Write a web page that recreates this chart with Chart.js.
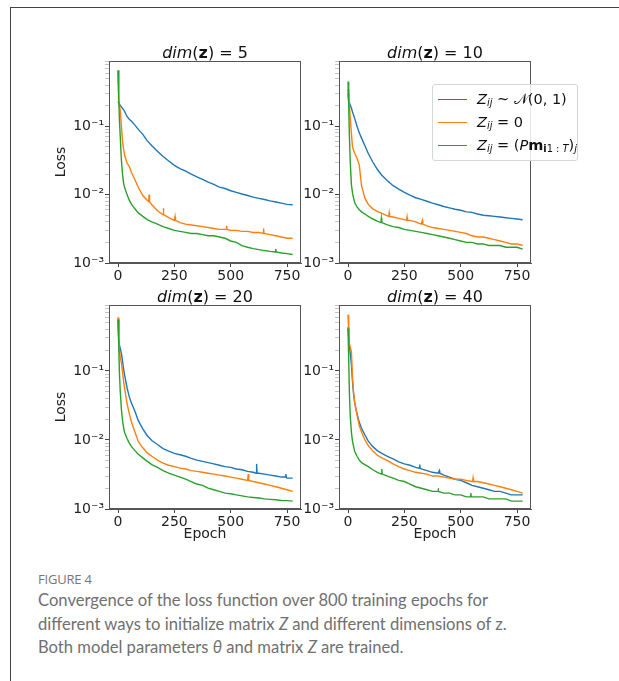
<!DOCTYPE html>
<html>
<head>
<meta charset="utf-8">
<script src="https://cdn.jsdelivr.net/npm/chart.js@4.4.1/dist/chart.umd.min.js"></script>
<style>
  html, body { margin: 0; padding: 0; background: #fff; overflow: hidden; }
  #page { position: relative; width: 619px; height: 681px; font-family: 'DejaVu Sans', sans-serif; }
  #frame { position: absolute; left: 10px; top: 7px; width: 700px; height: 700px; border-top: 1.5px solid #444; border-left: 1.5px solid #444; }
  canvas { position: absolute; }
  .title { position: absolute; width: 192px; height: 18px; line-height: 18px; font-size: 16px; text-align: center; color: #111; }
  .title b { font-weight: bold; }
  #legend { position: absolute; left: 432px; top: 84px; width: 144px; height: 72px; border: 1px solid #d6d6d6; border-radius: 3px; background: rgba(255,255,255,0.85); padding-top: 3px; box-sizing: content-box; }
  .row { height: 23px; line-height: 23px; font-size: 14.5px; color: #111; white-space: nowrap; position: relative; }
  .row span.ln { position: absolute; left: 5px; top: 11px; width: 29px; height: 1.4px; }
  .row span.tx { position: absolute; left: 44px; top: 0; }
  sub { font-size: 68%; vertical-align: -0.25em; line-height: 0; }
  #caption { position: absolute; left: 38px; top: 570px; font-family: Lato, 'Open Sans', sans-serif; color: #707070; }
  #caption .fig { font-family: 'Open Sans', sans-serif; font-size: 13px; height: 19px; line-height: 19px; color: #777; letter-spacing: -0.2px; }
  #caption .txt { font-size: 16.6px; line-height: 23.6px; white-space: nowrap; }
</style>
</head>
<body>
<div id="page">
  <div id="frame"></div>
  <canvas id="c0" width="265" height="245" style="left:45px;top:45px"></canvas>
  <canvas id="c1" width="245" height="245" style="left:295px;top:45px"></canvas>
  <canvas id="c2" width="265" height="255" style="left:45px;top:290px"></canvas>
  <canvas id="c3" width="245" height="255" style="left:295px;top:290px"></canvas>
  <div class="title" style="left:109px;top:44px"><i>dim</i>(<b>z</b>) = 5</div>
  <div class="title" style="left:339px;top:44px"><i>dim</i>(<b>z</b>) = 10</div>
  <div class="title" style="left:109px;top:288px"><i>dim</i>(<b>z</b>) = 20</div>
  <div class="title" style="left:339px;top:288px"><i>dim</i>(<b>z</b>) = 40</div>
  <div id="legend"></div>
  <div id="caption">
    <div class="fig">FIGURE 4</div>
    <div class="txt">Convergence of the loss function over 800 training epochs for<br>different ways to initialize matrix <i>Z</i> and different dimensions of z.<br>Both model parameters <i>θ</i> and matrix <i>Z</i> are trained.</div>
  </div>
</div>
<script>
const epochs = [0, 3, 6, 10, 15, 20, 25, 30, 40, 50, 60, 75, 90, 110, 130, 150, 175, 200, 225, 250, 275, 300, 325, 350, 375, 400, 425, 450, 475, 500, 525, 550, 575, 600, 625, 650, 675, 700, 725, 750, 775]

const dims = [5, 10, 20, 40]
const seriesColors = ['#1f77b4', '#ff7f0e', '#2ca02c']
const seriesLabels = ['Z_ij ~ N(0, 1)', 'Z_ij = 0', 'Z_ij = (P m_i1:T)_j']
const legendHtml = [
  '<i>Z</i><sub><i>ij</i></sub> ~ 𝒩(0, 1)',
  '<i>Z</i><sub><i>ij</i></sub> = 0',
  '<i>Z</i><sub><i>ij</i></sub> = (<i>P</i><b>m</b><sub><b>i</b>1 : <i>T</i></sub>)<sub><i>j</i></sub>'
]

// dim(z) = 5
const normal5 = [0.23, 0.218, 0.212, 0.201, 0.192, 0.183, 0.173, 0.163, 0.139, 0.127, 0.118, 0.104, 0.090, 0.076, 0.061, 0.052, 0.043, 0.036, 0.031, 0.0268, 0.0240, 0.0220, 0.0199, 0.0182, 0.0167, 0.0152, 0.0141, 0.0129, 0.0123, 0.0114, 0.0108, 0.0102, 0.0097, 0.0092, 0.0088, 0.0085, 0.0081, 0.0078, 0.0075, 0.0072, 0.0071]
const zero5 = [0.65, 0.215, 0.205, 0.17, 0.10, 0.060, 0.046, 0.037, 0.029, 0.0258, 0.021, 0.0165, 0.0128, 0.0097, 0.0082, 0.0071, 0.0058, 0.0051, 0.0046, 0.0042, 0.0039, 0.0037, 0.0036, 0.0035, 0.0034, 0.0033, 0.0032, 0.0031, 0.0031, 0.0030, 0.0030, 0.0029, 0.0029, 0.0028, 0.0028, 0.0027, 0.0026, 0.0025, 0.0024, 0.0023, 0.0023]
const prior5 = [0.66, 0.30, 0.13, 0.070, 0.032, 0.020, 0.0145, 0.0125, 0.0100, 0.0083, 0.0072, 0.0062, 0.0054, 0.0048, 0.0043, 0.0040, 0.0037, 0.0034, 0.0032, 0.0030, 0.0029, 0.0028, 0.0027, 0.0027, 0.0026, 0.0025, 0.0025, 0.0024, 0.0023, 0.0021, 0.0020, 0.0018, 0.0017, 0.00162, 0.00157, 0.00152, 0.00148, 0.00145, 0.0014, 0.00137, 0.00133]

// dim(z) = 10
const normal10 = [0.30, 0.235, 0.222, 0.205, 0.185, 0.162, 0.145, 0.128, 0.100, 0.080, 0.067, 0.052, 0.040, 0.030, 0.0235, 0.0192, 0.0160, 0.0135, 0.0120, 0.0108, 0.0098, 0.0090, 0.0085, 0.0080, 0.0075, 0.0071, 0.0067, 0.0064, 0.0061, 0.0059, 0.0056, 0.0055, 0.0052, 0.0050, 0.0049, 0.0048, 0.0047, 0.0046, 0.0045, 0.0044, 0.0043]
const zero10 = [0.35, 0.24, 0.21, 0.13, 0.078, 0.050, 0.044, 0.040, 0.034, 0.027, 0.0135, 0.0088, 0.0072, 0.0062, 0.0057, 0.0053, 0.0049, 0.0047, 0.0045, 0.0043, 0.0042, 0.0040, 0.0037, 0.0035, 0.0033, 0.0032, 0.0031, 0.0030, 0.0029, 0.0028, 0.0027, 0.0025, 0.0024, 0.0024, 0.0023, 0.0022, 0.0021, 0.0020, 0.0019, 0.0019, 0.0018]
const prior10 = [0.45, 0.20, 0.075, 0.030, 0.014, 0.0105, 0.0088, 0.0076, 0.0066, 0.0060, 0.0056, 0.0052, 0.0048, 0.0044, 0.0041, 0.0039, 0.0036, 0.0034, 0.0033, 0.0031, 0.0030, 0.0029, 0.0028, 0.0027, 0.0026, 0.0025, 0.0024, 0.0023, 0.0022, 0.0021, 0.0020, 0.0020, 0.0019, 0.0019, 0.0018, 0.0018, 0.0018, 0.0017, 0.0017, 0.0017, 0.0016]

// dim(z) = 20
const normal20 = [0.57, 0.30, 0.24, 0.21, 0.18, 0.14, 0.105, 0.085, 0.057, 0.042, 0.034, 0.026, 0.019, 0.0145, 0.0115, 0.0098, 0.0086, 0.0075, 0.0069, 0.0064, 0.0061, 0.0058, 0.0054, 0.0051, 0.0049, 0.0047, 0.0045, 0.0043, 0.0041, 0.0040, 0.0038, 0.0037, 0.0035, 0.0034, 0.0033, 0.0032, 0.0031, 0.0030, 0.0029, 0.0028, 0.0028]
const zero20 = [0.60, 0.30, 0.20, 0.16, 0.13, 0.095, 0.070, 0.054, 0.034, 0.024, 0.018, 0.0130, 0.0095, 0.0077, 0.0065, 0.0058, 0.0051, 0.0046, 0.0043, 0.0041, 0.0039, 0.0038, 0.0036, 0.0035, 0.0034, 0.0033, 0.0032, 0.0031, 0.0030, 0.0029, 0.0028, 0.0027, 0.0026, 0.0025, 0.0024, 0.0023, 0.0022, 0.0021, 0.0020, 0.0019, 0.0018]
const prior20 = [0.55, 0.25, 0.10, 0.050, 0.028, 0.019, 0.0150, 0.0126, 0.0105, 0.0090, 0.0080, 0.0070, 0.0062, 0.0055, 0.0049, 0.0044, 0.0040, 0.0036, 0.0033, 0.0031, 0.0029, 0.0027, 0.0025, 0.0023, 0.0022, 0.0020, 0.0019, 0.0018, 0.0017, 0.00166, 0.0016, 0.00155, 0.0015, 0.00147, 0.00144, 0.0014, 0.00138, 0.00136, 0.00133, 0.00132, 0.0013]

// dim(z) = 40
const normal40 = [0.43, 0.30, 0.23, 0.18, 0.124, 0.070, 0.045, 0.034, 0.024, 0.018, 0.0148, 0.0118, 0.0096, 0.0080, 0.0070, 0.0064, 0.0058, 0.0053, 0.0048, 0.0045, 0.0043, 0.0040, 0.0038, 0.0036, 0.0034, 0.0033, 0.0031, 0.0029, 0.0027, 0.0026, 0.0024, 0.0022, 0.0021, 0.0020, 0.0019, 0.0018, 0.0018, 0.0017, 0.0016, 0.0016, 0.0016]
const zero40 = [0.65, 0.35, 0.25, 0.22, 0.19, 0.080, 0.048, 0.034, 0.023, 0.016, 0.0130, 0.0100, 0.0083, 0.0069, 0.0060, 0.0055, 0.0050, 0.0045, 0.0041, 0.0038, 0.0036, 0.0034, 0.0033, 0.0032, 0.0030, 0.0030, 0.0029, 0.0028, 0.0027, 0.0027, 0.0026, 0.0025, 0.0025, 0.0024, 0.0023, 0.0022, 0.0021, 0.0020, 0.0019, 0.0018, 0.0017]
const prior40 = [0.41, 0.15, 0.050, 0.022, 0.0130, 0.0095, 0.0080, 0.0068, 0.0058, 0.0051, 0.0047, 0.0044, 0.0041, 0.0037, 0.0034, 0.0032, 0.0030, 0.0028, 0.0026, 0.0025, 0.0023, 0.0021, 0.0020, 0.0019, 0.0018, 0.0018, 0.0017, 0.0017, 0.0016, 0.0016, 0.0015, 0.0015, 0.0015, 0.0015, 0.0014, 0.0014, 0.0014, 0.0014, 0.0013, 0.0013, 0.0013]

// spikes: [epoch, level around it, peak]
const spikes = {
  zero5: [[138, 0.0079, 0.0100], [201, 0.0051, 0.0063], [253, 0.0042, 0.0048], [482, 0.0031, 0.0035], [646, 0.0027, 0.0032]],
  prior5: [[700, 0.00145, 0.0016]],
  zero10: [[183, 0.0048, 0.0054], [262, 0.0042, 0.0047], [330, 0.0037, 0.0042]],
  prior10: [[148, 0.0039, 0.0045]],
  normal20: [[615, 0.0033, 0.0045], [745, 0.0029, 0.0032]],
  zero20: [[578, 0.0026, 0.0032]],
  normal40: [[318, 0.0039, 0.0044], [405, 0.0033, 0.0036]],
  zero40: [[555, 0.0025, 0.0028]],
  prior40: [[150, 0.0032, 0.0038], [400, 0.0018, 0.0020], [545, 0.0015, 0.0017]]
}

const panels = [
  { normal: normal5, zero: zero5, prior: prior5, keys: ['normal5', 'zero5', 'prior5'] },
  { normal: normal10, zero: zero10, prior: prior10, keys: ['normal10', 'zero10', 'prior10'] },
  { normal: normal20, zero: zero20, prior: prior20, keys: ['normal20', 'zero20', 'prior20'] },
  { normal: normal40, zero: zero40, prior: prior40, keys: ['normal40', 'zero40', 'prior40'] }
]

const xTicks = [0, 250, 500, 750]
const xMin = -40
const xMax = 812
const yMajor = [1e-3, 1e-2, 1e-1]
const yMinor = [2, 3, 4, 5, 6, 7, 8, 9]
const yTickLabels = ['10⁻³', '10⁻²', '10⁻¹']
const yMin = 0.001
const yMax = 0.9

Chart.defaults.font.family = 'DejaVu Sans'
Chart.defaults.color = '#222'

const points = (values, extra) => {
  const pts = epochs.map((e, i) => ({ x: e, y: values[i] }))
  ;(extra || []).forEach(([e, base, peak]) => {
    pts.push({ x: e - 2, y: base }, { x: e, y: peak }, { x: e + 2, y: base })
  })
  return pts.sort((a, b) => a.x - b.x)
}

// axes box (matplotlib spines)
const boxPlugin = {
  id: 'box',
  afterDraw (c) {
    const { ctx, chartArea: a } = c
    ctx.save()
    ctx.strokeStyle = '#555'
    ctx.lineWidth = 1
    ctx.strokeRect(a.left + 0.5, a.top + 0.5, a.right - a.left - 1, a.bottom - a.top - 1)
    ctx.restore()
  }
}

const makeChart = (idx) => {
  const p = panels[idx]
  const left = idx % 2 === 0
  const bottom = idx >= 2
  const series = [p.normal, p.zero, p.prior]
  new Chart(document.getElementById('c' + idx), {
    type: 'line',
    data: {
      datasets: series.map((vals, i) => ({
        label: seriesLabels[i],
        data: points(vals, spikes[p.keys[i]]),
        borderColor: seriesColors[i],
        borderWidth: 1.4,
        pointRadius: 0,
        tension: 0,
        order: 2 - i
      }))
    },
    options: {
      responsive: false,
      animation: false,
      events: [],
      layout: { padding: { left: 0, right: 9, top: bottom ? 15 : 16, bottom: 0 } },
      plugins: { legend: { display: false }, tooltip: { enabled: false } },
      scales: {
        x: {
          type: 'linear',
          min: xMin,
          max: xMax,
          afterBuildTicks: s => { s.ticks = xTicks.map(v => ({ value: v })) },
          afterFit: s => { s.height = bottom ? 36 : 27 },
          ticks: { autoSkip: false, maxRotation: 0, padding: 1, font: { size: 14 }, color: '#222', callback: v => String(v) },
          grid: { drawOnChartArea: false, tickLength: 4, tickColor: '#444' },
          border: { color: '#555' },
          title: { display: bottom, text: 'Epoch', font: { size: 14 }, color: '#222', padding: { top: 0, bottom: 2 } }
        },
        y: {
          type: 'logarithmic',
          min: yMin,
          max: yMax,
          afterBuildTicks: s => {
            const t = []
            yMajor.forEach(d => {
              t.push({ value: d, major: true })
              yMinor.forEach(m => { if (d * m <= yMax) t.push({ value: d * m, major: false }) })
            })
            s.ticks = t
          },
          afterFit: s => { s.width = left ? 64 : 44 },
          ticks: {
            autoSkip: false,
            padding: 1,
            font: { size: 14 },
            color: '#222',
            callback: v => {
              const k = yMajor.indexOf(v)
              return k >= 0 ? yTickLabels[k] : ''
            }
          },
          grid: {
            drawOnChartArea: false,
            tickLength: 4,
            tickColor: ctx => (ctx.tick && ctx.tick.major) ? '#444' : '#aaa',
            tickWidth: ctx => (ctx.tick && ctx.tick.major) ? 1 : 0.7
          },
          border: { color: '#555' },
          title: { display: left, text: 'Loss', font: { size: 14 }, color: '#222', padding: { top: 8, bottom: 0 } }
        }
      }
    },
    plugins: [boxPlugin]
  })
}

dims.forEach((d, i) => makeChart(i))

// legend drawn inside the dim(z)=10 panel
const legend = document.getElementById('legend')
seriesColors.forEach((c, i) => {
  const row = document.createElement('div')
  row.className = 'row'
  row.innerHTML = '<span class="ln" style="background:' + c + '"></span><span class="tx">' + legendHtml[i] + '</span>'
  legend.appendChild(row)
})
</script>
</body>
</html>
